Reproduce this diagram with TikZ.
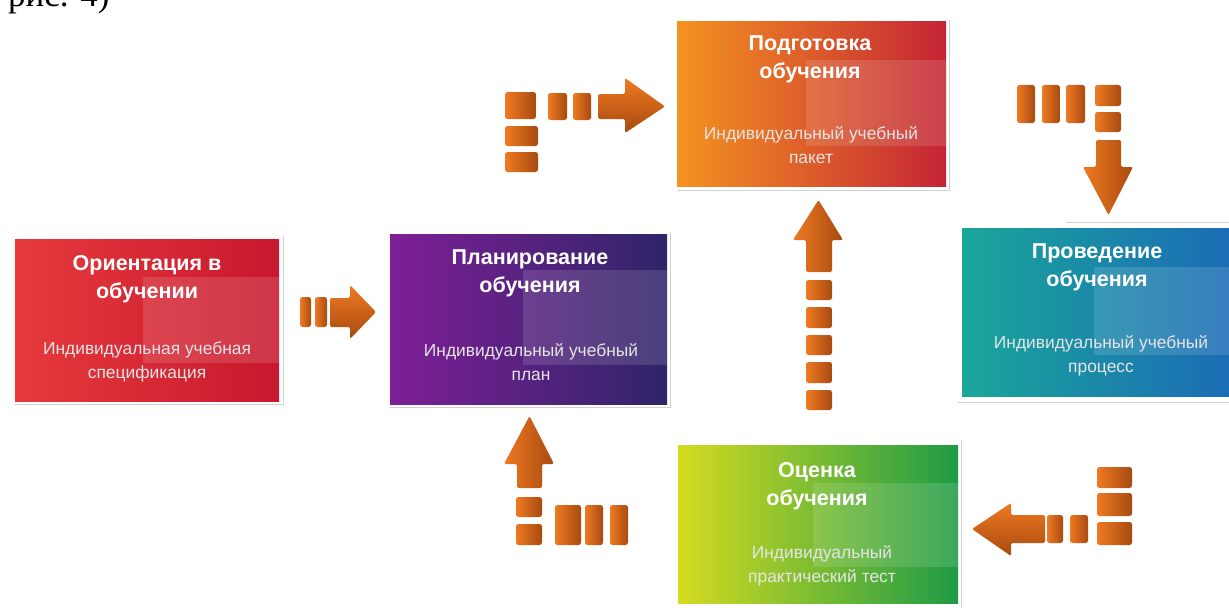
\documentclass[tikz,border=0pt]{standalone}
\usepackage{fontspec}
\setmainfont{Liberation Sans}
\newfontfamily\capfont{Liberation Serif}
\definecolor{ol}{HTML}{EE7A22}
\definecolor{od}{HTML}{A84A10}
\definecolor{rA}{HTML}{E63A3C}\definecolor{rB}{HTML}{C8182E}
\definecolor{pA}{HTML}{7E1F96}\definecolor{pB}{HTML}{2E2568}
\definecolor{oA}{HTML}{F49320}\definecolor{oB}{HTML}{C42535}
\definecolor{tA}{HTML}{1AA69A}\definecolor{tB}{HTML}{1B6CB6}
\definecolor{gA}{HTML}{D5DC20}\definecolor{gB}{HTML}{1E9B46}
\tikzset{
  box/.style={rectangle, inner sep=0, draw=none},
  inset/.style={fill=white, opacity=0.13},
  frame/.style={draw=black!18, line width=0.8pt},
  ttl/.style={text=white, align=center, inner sep=0, font=\bfseries\fontsize{21.5}{28}\selectfont},
  sub/.style={text=white!90!black, align=center, inner sep=0, font=\fontsize{17.4}{23.5}\selectfont},
  brick/.style={rounded corners=2.5pt, left color=ol, right color=od},
  hbar/.style={rounded corners=2pt, top color=ol, bottom color=od},
  vbar/.style={rounded corners=2pt, left color=ol, right color=od},
}
\newcommand\blk[4]{\path[brick] (#1,#2) rectangle (#3,#4);}
\begin{document}
\begin{tikzpicture}[x=1pt,y=-1pt]
\useasboundingbox (0,0) rectangle (1229,610);
\fill[white] (0,0) rectangle (1229,610);

% caption fragment cut at top
\node[anchor=base west, inner sep=0, font=\capfont\fontsize{35}{40}\selectfont] (cap) at (8,6.5) {рис. 4)};

% ---- boxes ----
\draw[frame] (283,236) -- (283,404) -- (15,404);
\node[box, left color=rA, right color=rB, minimum width=264, minimum height=162] (orient) at (147,320) {};
\fill[inset] (143,277) rectangle (279,363);
\node[ttl] (orientT) at (147,279) {Ориентация в\\обучении};
\node[sub] (orientS) at (147,362) {Индивидуальная учебная\\спецификация};

\draw[frame] (670,232) -- (670,407) -- (390,407);
\node[box, left color=pA, right color=pB, minimum width=277, minimum height=170] (plan) at (528.5,319) {};
\fill[inset] (523,270) rectangle (667,365);
\node[ttl] (planT) at (530,273) {Планирование\\обучения};
\node[sub] (planS) at (531,362) {Индивидуальный учебный\\план};

\draw[frame] (949,20) -- (949,190) -- (677,190);
\node[box, left color=oA, right color=oB, minimum width=269, minimum height=164] (prep) at (811.5,104) {};
\fill[inset] (806,60) rectangle (946,146);
\node[ttl] (prepT) at (810,59) {Подготовка\\обучения};
\node[sub] (prepS) at (811,145) {Индивидуальный учебный\\пакет};

\draw[frame] (1066,222) -- (1229,222);
\draw[frame] (958,402) -- (1229,402);
\node[box, left color=tA, right color=tB, minimum width=268, minimum height=168] (cond) at (1096,312) {};
\fill[inset] (1094,267) rectangle (1229,355);
\node[ttl] (condT) at (1097,267) {Проведение\\обучения};
\node[sub] (condS) at (1101,356) {Индивидуальный учебный\\процесс};

\draw[frame] (961,440) -- (961,608);
\node[box, left color=gA, right color=gB, minimum width=280, minimum height=158] (eval) at (818,524) {};
\fill[inset] (813,483) rectangle (958,567);
\node[ttl] (evalT) at (817,486) {Оценка\\обучения};
\node[sub] (evalS) at (822,566) {Индивидуальный\\практический тест};

% ---- block arrows ----
% A: into preparation
\blk{505}{92}{536}{119}\blk{505}{126}{538}{146}\blk{505}{152}{538}{172}
\blk{548}{93}{567}{120}\blk{573}{93}{591}{120}
\path[hbar] (598,94) -- (625,94) -- (625,78) -- (665,106.5) -- (625,133) -- (625,119) -- (598,119) -- cycle;

% B: orientation -> planning
\blk{300}{297}{311}{327}\blk{315}{297}{327}{327}
\path[hbar] (330,298) -- (350,298) -- (350,285) -- (376,312) -- (350,339) -- (350,327) -- (330,327) -- cycle;

% C: preparation -> conduct
\blk{1017}{85}{1035}{123}\blk{1042}{85}{1060}{123}\blk{1066}{85}{1085}{123}
\blk{1095}{85}{1121}{106}\blk{1095}{112}{1121}{132}
\path[vbar] (1096,140) -- (1121,140) -- (1121,167) -- (1133,167) -- (1108.5,215) -- (1083,167) -- (1096,167) -- cycle;

% D: evaluation -> preparation (middle)
\blk{806}{280}{832}{300}\blk{806}{307}{832}{328}\blk{806}{335}{832}{355}
\blk{806}{362}{832}{383}\blk{806}{390}{832}{410}
\path[vbar] (806,272) -- (806,240) -- (793,240) -- (818.5,200) -- (843,240) -- (832,240) -- (832,272) -- cycle;

% E: into planning from below
\blk{516}{497}{542}{517}\blk{516}{524}{542}{545}
\blk{555}{505}{581}{545}\blk{585}{505}{603}{545}\blk{610}{505}{628}{545}
\path[vbar] (517,488) -- (517,464) -- (504,464) -- (529.5,416) -- (554,464) -- (542,464) -- (542,488) -- cycle;

% F: into evaluation from right
\blk{1097}{467}{1132}{488}\blk{1097}{493}{1132}{516}\blk{1097}{522}{1132}{545}
\blk{1047}{515}{1063}{543}\blk{1070}{515}{1088}{543}
\path[hbar] (1045,515) -- (1011,515) -- (1011,503) -- (972,529) -- (1011,556) -- (1011,543) -- (1045,543) -- cycle;
\end{tikzpicture}
\end{document}
